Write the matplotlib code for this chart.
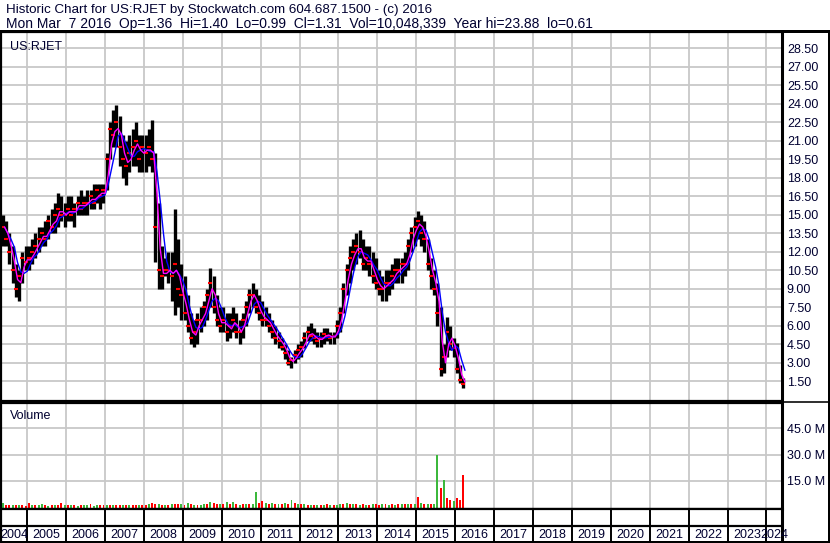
import matplotlib.pyplot as plt
import pandas as pd
from matplotlib.lines import Line2D

plt.rcParams['font.family'] = ['Liberation Sans', 'DejaVu Sans']

# monthly bars, May 2004 .. Mar 2016
months = pd.period_range('2004-05', '2016-03', freq='M')

high = [15.0, 14.5, 13.5, 12.5, 11.0, 10.5, 12.0, 12.5,
        12.5, 13.0, 13.5, 14.0, 14.0, 14.5, 15.0, 15.5, 16.0, 16.8, 16.5, 16.0,
        16.5, 16.5, 16.0, 16.5, 17.0, 16.5, 17.0, 17.0, 17.5, 17.5, 17.5, 17.5,
        20.0, 22.5, 23.5, 23.9, 23.0, 21.5, 21.0, 21.5, 22.0, 22.5, 21.5, 21.5,
        21.5, 22.0, 22.7, 20.0, 16.0, 12.5, 11.5, 12.0, 12.0, 15.5, 13.0, 11.0,
        10.0, 8.5, 7.0, 6.5, 7.0, 7.5, 8.0, 9.0, 10.7, 10.0, 8.5, 7.5,
        7.5, 7.0, 7.0, 7.5, 7.0, 6.5, 7.0, 8.0, 9.0, 9.5, 9.0, 8.5,
        8.0, 7.5, 7.0, 6.5, 6.0, 5.5, 5.0, 4.5, 4.0, 3.5, 4.0, 4.5,
        4.8, 5.5, 6.0, 6.2, 5.8, 5.5, 5.5, 5.8, 5.8, 5.5, 5.5, 6.5,
        7.5, 9.5, 11.0, 12.5, 13.0, 13.5, 13.8, 13.0, 12.5, 12.5, 12.0, 11.5,
        10.5, 10.0, 10.5, 10.5, 11.0, 11.5, 11.5, 11.5, 12.0, 13.0, 14.0, 14.8,
        15.3, 15.0, 14.5, 13.0, 11.5, 10.5, 9.5, 7.5, 4.5, 6.7, 6.0, 5.0,
        4.6, 2.8, 1.8]

low = [12.5, 12.5, 11.0, 9.5, 8.3, 8.0, 9.5, 10.5,
       10.5, 11.0, 11.5, 12.0, 12.5, 12.5, 13.0, 13.5, 13.5, 14.0, 14.5, 14.0,
       14.5, 14.5, 14.0, 15.0, 15.0, 15.0, 15.0, 15.5, 15.5, 16.0, 15.5, 16.0,
       17.0, 19.5, 20.5, 20.5, 19.0, 18.0, 17.4, 18.5, 19.0, 19.0, 18.5, 18.5,
       18.5, 19.0, 18.5, 11.2, 9.0, 9.0, 10.0, 9.5, 8.0, 6.9, 7.5, 6.5,
       6.5, 5.5, 4.5, 4.3, 4.5, 5.5, 6.0, 6.5, 7.5, 7.0, 6.0, 5.5,
       5.5, 4.8, 5.0, 5.5, 5.0, 4.5, 5.0, 6.0, 7.0, 7.5, 7.0, 6.5,
       6.0, 6.0, 5.5, 5.0, 4.5, 4.2, 4.0, 3.3, 2.8, 2.6, 3.0, 3.3,
       3.5, 4.2, 4.8, 4.8, 4.5, 4.3, 4.3, 4.5, 4.8, 4.5, 4.5, 5.0,
       5.5, 7.0, 8.5, 9.5, 10.5, 11.0, 11.5, 10.5, 10.5, 10.0, 9.5, 9.0,
       8.5, 8.0, 8.0, 8.5, 9.0, 9.5, 9.5, 9.5, 10.0, 10.5, 12.0, 12.5,
       13.0, 12.5, 12.0, 10.5, 9.0, 8.5, 6.0, 1.9, 2.2, 3.5, 4.0, 3.5,
       2.2, 1.4, 0.99]

close = [14.0, 13.0, 12.0, 10.5, 9.0, 10.0, 11.5, 11.2,
         11.5, 12.0, 12.5, 13.0, 13.5, 13.0, 14.5, 14.0, 15.0, 15.5, 15.0, 15.0,
         15.5, 15.0, 15.5, 16.0, 15.5, 16.0, 16.0, 16.5, 16.0, 17.0, 16.5, 17.0,
         19.5, 22.0, 21.5, 22.5, 20.5, 19.5, 19.0, 20.0, 20.5, 21.0, 19.5, 20.5,
         20.0, 20.5, 19.5, 14.0, 10.5, 10.0, 10.5, 10.5, 10.0, 11.0, 9.0, 8.5,
         7.0, 6.0, 5.0, 5.5, 6.5, 6.5, 7.5, 8.5, 9.5, 7.5, 6.5, 6.0,
         6.5, 5.5, 6.0, 6.5, 5.5, 5.5, 6.5, 7.5, 8.5, 8.5, 7.5, 7.0,
         6.5, 6.5, 6.0, 5.5, 5.0, 4.8, 4.3, 3.8, 3.0, 3.2, 3.6, 4.0,
         4.3, 5.0, 5.5, 5.2, 5.0, 4.8, 5.0, 5.3, 5.2, 5.0, 5.2, 6.0,
         7.0, 9.0, 10.5, 11.5, 12.0, 12.5, 12.0, 11.0, 11.5, 11.0, 10.0, 9.5,
         9.0, 9.0, 9.5, 9.5, 10.0, 10.5, 10.5, 11.0, 11.0, 12.5, 13.5, 14.0,
         14.5, 13.5, 13.0, 11.0, 10.0, 9.0, 7.0, 2.5, 3.5, 5.5, 4.5, 4.2,
         2.5, 1.6, 1.31]

# volume in millions, and whether the bar is an up (green) bar
volume = [2.0, 1.2, 1.0, 1.3, 0.9, 1.1, 0.9, 0.8,
          2.4, 1.0, 0.9, 1.1, 1.7, 1.0, 0.8, 1.0, 0.9, 1.2, 2.2, 1.0,
          0.9, 1.0, 1.2, 0.8, 1.0, 0.9, 1.0, 1.5, 0.8, 1.0, 1.1, 0.9,
          1.0, 1.1, 1.2, 1.0, 1.0, 1.3, 1.0, 1.2, 1.0, 0.9, 1.1, 1.0,
          1.2, 1.5, 2.5, 1.8, 1.4, 1.2, 1.0, 1.3, 1.5, 1.8, 1.5, 1.4,
          1.3, 2.4, 1.5, 1.2, 1.3, 1.0, 1.4, 1.6, 2.8, 2.0, 1.5, 1.6,
          1.5, 2.8, 1.8, 3.0, 1.6, 1.2, 1.4, 1.5, 1.8, 1.6, 8.3, 2.5,
          3.5, 2.0, 1.8, 2.5, 1.6, 1.5, 1.4, 2.0, 1.8, 4.2, 2.0, 1.6,
          1.5, 1.4, 1.2, 1.3, 1.0, 1.2, 1.0, 1.1, 1.4, 1.2, 1.0, 1.3,
          1.5, 1.6, 2.0, 1.6, 1.5, 1.4, 1.3, 1.5, 1.2, 1.3, 1.5, 1.4,
          1.3, 1.6, 1.4, 1.2, 1.5, 1.3, 1.6, 1.4, 1.5, 1.4, 1.8, 1.6,
          5.4, 2.0, 1.8, 1.6, 1.5, 1.7, 30.0, 11.0, 15.5, 5.0, 4.0, 3.5,
          5.0, 4.0, 18.4]
vol_up = [1, 0, 0, 1, 0, 1, 0, 0,
          0, 1, 0, 1, 1, 0, 1, 0, 1, 0, 0, 1,
          0, 1, 0, 1, 0, 1, 1, 0, 1, 1, 0, 0,
          1, 0, 1, 0, 0, 1, 0, 1, 0, 0, 1, 0,
          0, 1, 0, 0, 1, 0, 1, 0, 1, 0, 0, 1,
          0, 1, 0, 1, 0, 1, 1, 0, 1, 0, 0, 1,
          0, 1, 0, 1, 0, 1, 0, 1, 0, 1, 1, 0,
          0, 1, 0, 1, 0, 1, 0, 1, 0, 1, 0, 1,
          0, 1, 0, 1, 0, 1, 0, 1, 0, 1, 0, 1,
          1, 0, 1, 0, 1, 0, 1, 0, 1, 0, 1, 0,
          0, 1, 0, 1, 0, 1, 0, 1, 0, 1, 0, 1,
          0, 1, 0, 1, 0, 1, 1, 0, 1, 0, 0, 1,
          0, 0, 0]

year_labels = list(range(2004, 2025))
price_ticks = [1.5 * k for k in range(1, 20)]
volume_ticks = [15, 30, 45]

title1 = "Historic Chart for US:RJET by Stockwatch.com 604.687.1500 - (c) 2016"
title2 = ("Mon Mar  7 2016  Op=1.36  Hi=1.40  Lo=0.99  Cl=1.31  "
          "Vol=10,048,339  Year hi=23.88  lo=0.61")

t = months.year + (months.month - 0.5) / 12
cl = pd.Series(close)
ma_short = cl.rolling(2, min_periods=1).mean()   # magenta
ma_long = cl.rolling(4, min_periods=1).mean()    # blue

W, H = 830, 543
TXT = '#000030'
GRID = '#c8c8c8'
x0, x1 = 2004.324, 2024.401


def box(left, top, right, bottom):
    return [left / W, 1 - bottom / H, (right - left) / W, (bottom - top) / H]


fig = plt.figure(figsize=(W / 100, H / 100), dpi=100)
fig.patch.set_facecolor('white')

ax = fig.add_axes(box(1, 32, 782, 401))
axv = fig.add_axes(box(1, 403, 782, 509))
axd = fig.add_axes(box(1, 509, 782, 543))

for a in (ax, axv, axd):
    a.set_xlim(x0, x1)
    for s in a.spines.values():
        s.set_color('black')
        s.set_linewidth(1.6)
    a.spines['right'].set_linewidth(2.2)

# price panel
ax.set_ylim(-0.1, 29.83)
ax.set_xticks(year_labels[1:])
ax.set_yticks(price_ticks)
ax.set_yticklabels(['%.2f' % v for v in price_ticks])
ax.grid(True, color=GRID, linewidth=1.3)
ax.set_axisbelow(True)
ax.tick_params(axis='x', length=0, labelbottom=False)
ax.tick_params(axis='y', length=0, left=False, labelleft=False,
               right=False, labelright=True, pad=3.5, labelsize=9,
               labelcolor=TXT)

ax.vlines(t, low, high, color='black', linewidth=2.4)
ax.plot(t, close, linestyle='none', marker='_', color='red',
        markersize=2.5, markeredgewidth=1.5)
ax.plot(t + 1 / 24, ma_long, color='#0000ff', linewidth=1.0)
ax.plot(t + 1 / 24, ma_short, color='#ff00ff', linewidth=1.0)
ax.text(0.011, 0.976, 'US:RJET', transform=ax.transAxes, fontsize=9,
        color=TXT, va='top', ha='left')

# volume panel
axv.set_ylim(-1.2, 59.5)
axv.set_xticks(year_labels[1:])
axv.set_yticks(volume_ticks)
axv.set_yticklabels(['%.1f M' % v for v in volume_ticks])
axv.grid(True, color=GRID, linewidth=1.3)
axv.set_axisbelow(True)
axv.tick_params(axis='x', length=0, labelbottom=False)
axv.tick_params(axis='y', length=0, left=False, labelleft=False,
                right=False, labelright=True, pad=3.5, labelsize=9,
                labelcolor=TXT)
vcol = ['#3cb83c' if u else '#ff0000' for u in vol_up]
axv.bar(t, [v + 1.2 for v in volume], bottom=-1.2, width=0.05,
        color=vcol, linewidth=0)
axv.text(0.011, 0.93, 'Volume', transform=axv.transAxes, fontsize=9,
         color=TXT, va='top', ha='left')

# date strip
axd.set_ylim(0, 1)
axd.set_xticks([])
axd.set_yticks([])
axd.axhline(0.5, color='black', linewidth=1.6)
for yr in year_labels[1:]:
    axd.axvline(yr, color='black', linewidth=1.4)
for yr in year_labels:
    lo_, hi_ = max(yr, x0), min(yr + 1, x1)
    axd.text((lo_ + hi_) / 2, 0.25, str(yr), ha='center', va='center',
             fontsize=9, color=TXT, clip_on=False)

# header and outer frame
fig.text(6 / W, 1 - 12.7 / H, title1, fontsize=9.6, color=TXT, va='baseline')
fig.text(6 / W, 1 - 28.3 / H, title2, fontsize=10, color=TXT, va='baseline')

frame = [((0, 830), (31, 31), 3.0), ((0.8, 0.8), (31, 543), 2.0),
         ((828.5, 828.5), (31, 543), 2.0), ((0, 830), (542, 542), 2.0),
         ((782, 830), (402, 402), 1.6)]
for xs, ys, lw in frame:
    fig.add_artist(Line2D([x / W for x in xs], [1 - y / H for y in ys],
                          color='black', linewidth=lw * 0.72))

fig.savefig('out.png', dpi=100)
